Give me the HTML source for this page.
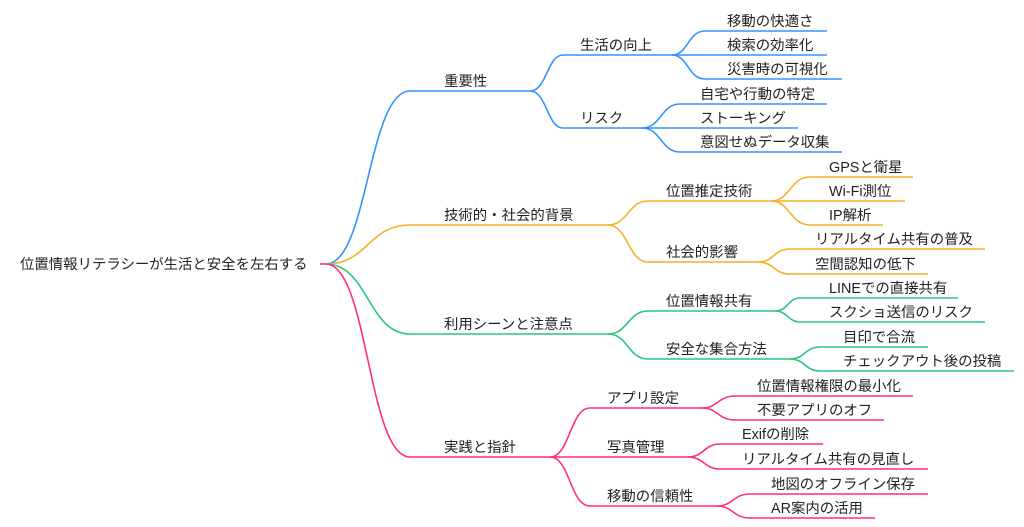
<!DOCTYPE html>
<html><head><meta charset="utf-8"><style>
html,body{margin:0;padding:0;background:#fff;}
svg{display:block;}
text{font-family:"Liberation Sans","Noto Sans CJK JP",sans-serif;font-size:14.4px;fill:#222;}
path{fill:none;stroke-width:1.6;}
.b{stroke:#3393ff}.o{stroke:#f6b12a}.g{stroke:#2ac57c}.p{stroke:#ff2d7f}
</style></head><body>
<svg width="1024" height="527" viewBox="0 0 1024 527">
<text x="20" y="269">位置情報リテラシーが生活と安全を左右する</text>
<path class="p" d="M320 264 H326"/>
<!-- blue -->
<path class="b" d="M326 264 C368 264,368 91,410 91 H530"/>
<text x="444" y="86">重要性</text>
<path class="b" d="M530 91 C547 91,547 55,563 55 H672"/>
<path class="b" d="M530 91 C547 91,547 128,563 128 H642"/>
<text x="580" y="50">生活の向上</text>
<text x="580" y="123">リスク</text>
<path class="b" d="M672 55 C688 55,688 31,705 31 H827"/>
<path class="b" d="M672 55 H827"/>
<path class="b" d="M672 55 C688 55,688 79,705 79 H842"/>
<text x="727" y="26">移動の快適さ</text>
<text x="727" y="50">検索の効率化</text>
<text x="727" y="74">災害時の可視化</text>
<path class="b" d="M642 128 C661 128,661 104,680 104 H827"/>
<path class="b" d="M642 128 H798"/>
<path class="b" d="M642 128 C661 128,661 152,680 152 H842"/>
<text x="700" y="99">自宅や行動の特定</text>
<text x="700" y="123">ストーキング</text>
<text x="700" y="147">意図せぬデータ収集</text>
<!-- orange -->
<path class="o" d="M326 264 C368 264,368 225,410 225 H608"/>
<text x="444" y="220">技術的・社会的背景</text>
<path class="o" d="M608 225 C628 225,628 201,648 201 H771"/>
<path class="o" d="M608 225 C628 225,628 262,648 262 H758"/>
<text x="666" y="196">位置推定技術</text>
<text x="666" y="257">社会的影響</text>
<path class="o" d="M771 201 C790 201,790 177,810 177 H913"/>
<path class="o" d="M771 201 H905"/>
<path class="o" d="M771 201 C790 201,790 225,810 225 H883"/>
<text x="829" y="172">GPSと衛星</text>
<text x="829" y="196">Wi-Fi測位</text>
<text x="829" y="220">IP解析</text>
<path class="o" d="M758 262 C774 262,774 249,790 249 H985"/>
<path class="o" d="M758 262 C774 262,774 274,790 274 H928"/>
<text x="815" y="244">リアルタイム共有の普及</text>
<text x="815" y="269">空間認知の低下</text>
<!-- green -->
<path class="g" d="M326 264 C368 264,368 334,410 334 H608"/>
<text x="444" y="329">利用シーンと注意点</text>
<path class="g" d="M608 334 C628 334,628 311,648 311 H775"/>
<path class="g" d="M608 334 C628 334,628 359,648 359 H790"/>
<text x="666" y="306">位置情報共有</text>
<text x="666" y="354">安全な集合方法</text>
<path class="g" d="M775 311 C788 311,788 298,800 298 H958"/>
<path class="g" d="M775 311 C788 311,788 322,800 322 H985"/>
<text x="829" y="293">LINEでの直接共有</text>
<text x="829" y="317">スクショ送信のリスク</text>
<path class="g" d="M790 359 C805 359,805 347,820 347 H928"/>
<path class="g" d="M790 359 C805 359,805 371,820 371 H1014"/>
<text x="843" y="342">目印で合流</text>
<text x="843" y="366">チェックアウト後の投稿</text>
<!-- pink -->
<path class="p" d="M326 264 C368 264,368 457,410 457 H550"/>
<text x="444" y="452">実践と指針</text>
<path class="p" d="M550 457 C570 457,570 408,590 408 H702"/>
<path class="p" d="M550 457 H688"/>
<path class="p" d="M550 457 C570 457,570 506,590 506 H717"/>
<text x="607" y="403">アプリ設定</text>
<text x="607" y="452">写真管理</text>
<text x="607" y="501">移動の信頼性</text>
<path class="p" d="M702 408 C718 408,718 396,735 396 H913"/>
<path class="p" d="M702 408 C718 408,718 420,735 420 H884"/>
<text x="757" y="391">位置情報権限の最小化</text>
<text x="757" y="415">不要アプリのオフ</text>
<path class="p" d="M688 457 C704 457,704 444,720 444 H823"/>
<path class="p" d="M688 457 C704 457,704 469,720 469 H928"/>
<text x="742" y="439">Exifの削除</text>
<text x="742" y="464">リアルタイム共有の見直し</text>
<path class="p" d="M717 506 C733 506,733 494,750 494 H928"/>
<path class="p" d="M717 506 C733 506,733 518,750 518 H875"/>
<text x="771" y="489">地図のオフライン保存</text>
<text x="771" y="513">AR案内の活用</text>
</svg>
</body></html>
